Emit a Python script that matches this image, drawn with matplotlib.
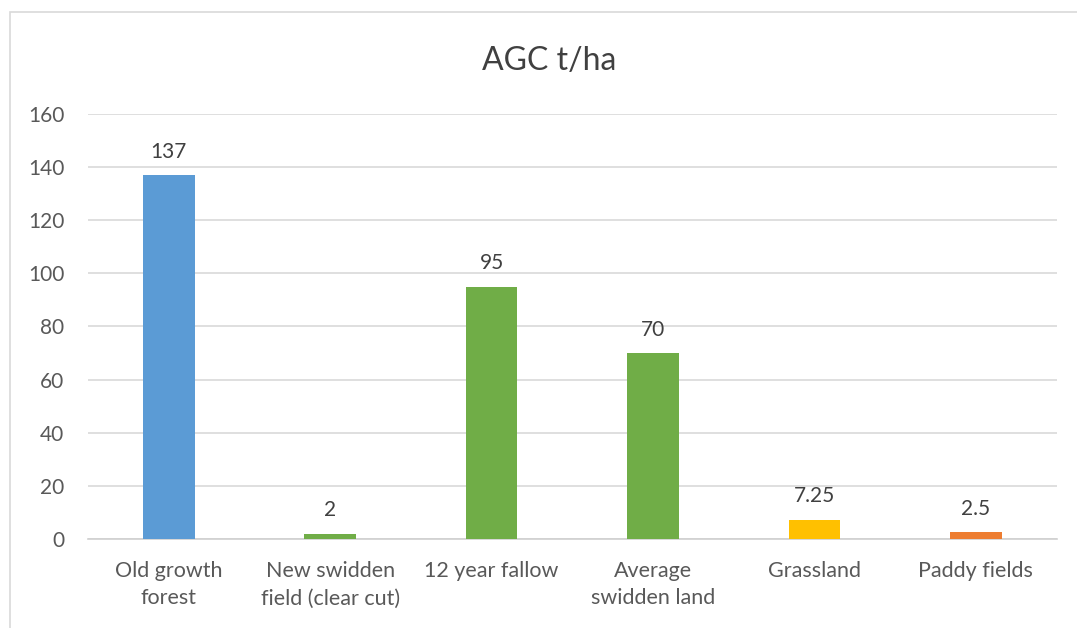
import matplotlib
matplotlib.use('Agg')
import matplotlib.pyplot as plt
from matplotlib.patches import Rectangle

# data
categories = ['Old growth\nforest', 'New swidden\nfield (clear cut)', '12 year fallow',
              'Average\nswidden land', 'Grassland', 'Paddy fields']
values = [137, 2, 95, 70, 7.25, 2.5]
labels = ['137', '2', '95', '70', '7.25', '2.5']
colors = ['#5B9BD5', '#70AD47', '#70AD47', '#70AD47', '#FFC000', '#ED7D31']
yticks = [0, 20, 40, 60, 80, 100, 120, 140, 160]

plt.rcParams['font.family'] = ['Lato', 'DejaVu Sans']
txt = '#595959'

fig = plt.figure(figsize=(10.77, 6.28), dpi=100)
ax = fig.add_axes([0.0817, 0.1417, 0.8993, 0.6768])

x = range(len(categories))
ax.bar(x, values, width=0.32, color=colors, zorder=3)
for xi, v, lab in zip(x, values, labels):
    ax.text(xi, v + 5, lab, ha='center', va='bottom', fontsize=15, color='#404040')

ax.set_xlim(-0.5, 5.5)
ax.set_ylim(0, 160)
ax.set_yticks(yticks)
ax.set_xticks(list(x))
ax.set_xticklabels(categories, fontsize=15.5, color=txt, linespacing=1.45)
ax.tick_params(axis='y', labelsize=15, labelcolor=txt, length=0, pad=17)
ax.tick_params(axis='x', length=0, pad=16)
ax.grid(axis='y', color='#d9d9d9', linewidth=1.2, zorder=0)
for s in ['top', 'right', 'left']:
    ax.spines[s].set_visible(False)
ax.spines['bottom'].set_color('#d0d0d0')
ax.spines['bottom'].set_linewidth(1.2)

fig.text(0.51, 0.903, 'AGC t/ha', ha='center', va='center', fontsize=23, color='#404040')

# chart border
fig.patches.append(Rectangle((10 / 1077, -0.01), 1.1, 1 - 12 / 628 + 0.01,
                             transform=fig.transFigure, fill=False,
                             edgecolor='#d9d9d9', linewidth=1.2))

plt.savefig('out.png', dpi=100)
